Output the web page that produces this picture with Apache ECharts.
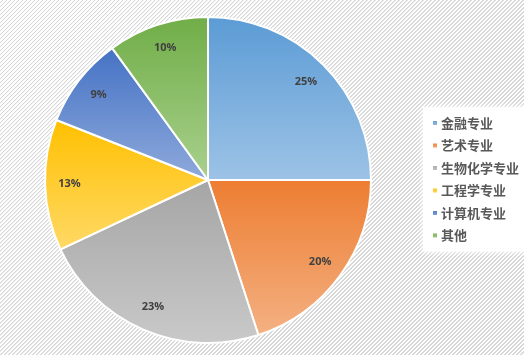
<!DOCTYPE html>
<html>
<head>
<meta charset="utf-8">
<script src="https://cdn.jsdelivr.net/npm/echarts@6/dist/echarts.min.js"></script>
<style>
html,body{margin:0;padding:0;}
#c{width:524px;height:355px;
background:repeating-linear-gradient(135deg,#ffffff 0px,#ffffff 1.4px,#d6d6d6 1.6px,#d6d6d6 2.6px,#ffffff 2.83px);}
</style>
</head>
<body>
<div id="c"></div>
<script>
const categories = ['金融专业', '艺术专业', '生物化学专业', '工程学专业', '计算机专业', '其他'];
const values = [25, 20, 23, 13, 9, 10];
const topColors = ['#5b9bd5', '#ed7d31', '#a5a5a5', '#ffc000', '#4472c4', '#70ad47'];
const bottomColors = ['#9dc3e6', '#f4b183', '#c9c9c9', '#ffd966', '#8faadc', '#a9d18e'];

const chart = echarts.init(document.getElementById('c'), null, {renderer: 'canvas'});
const CX = 208, CY = 180, R = 163;

const data = categories.map((name, i) => ({
  name: name,
  value: values[i],
  itemStyle: {
    color: new echarts.graphic.LinearGradient(0, 0, 0, 1, [
      {offset: 0, color: topColors[i]},
      {offset: 1, color: bottomColors[i]}
    ])
  }
}));

chart.setOption({
  animation: false,
  backgroundColor: 'transparent',
  legend: {
    orient: 'vertical',
    left: 423,
    top: 107,
    padding: [8, 10, 8, 8],
    backgroundColor: '#ffffff',
    shadowColor: 'rgba(255,255,255,1)',
    shadowBlur: 6,
    icon: 'rect',
    itemWidth: 6,
    itemHeight: 6,
    itemGap: 6.5,
    textStyle: {
      fontFamily: '"Noto Sans CJK SC", sans-serif',
      fontSize: 13,
      fontWeight: 'bold',
      color: '#595959',
      lineHeight: 16,
      padding: [0, 0, 0, -2]
    },
    data: categories
  },
  series: [{
    type: 'pie',
    center: [CX, CY],
    radius: [0, R],
    startAngle: 90,
    clockwise: true,
    avoidLabelOverlap: false,
    itemStyle: {borderColor: '#ffffff', borderWidth: 2},
    emphasis: {disabled: true},
    label: {
      show: true,
      position: 'inside',
      formatter: function (p) { return p.value + '%'; },
      fontFamily: '"Open Sans", "Noto Sans", sans-serif',
      fontSize: 11,
      fontWeight: 'bold',
      color: '#404040'
    },
    labelLine: {show: false},
    labelLayout: function (params) {
      const lr = params.labelRect;
      const lx = lr.x + lr.width / 2;
      const ly = lr.y + lr.height / 2;
      const k = 1.64;
      return {x: CX + (lx - CX) * k, y: CY + (ly - CY) * k};
    },
    data: data
  }]
});
</script>
</body>
</html>
